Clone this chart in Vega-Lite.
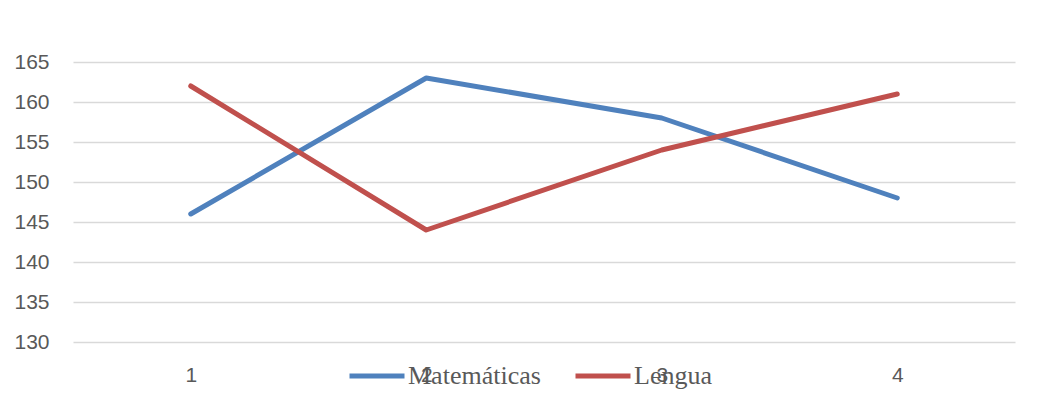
{
  "$schema": "https://vega.github.io/schema/vega-lite/v6.json",
  "width": 942,
  "height": 280,
  "autosize": "none",
  "padding": {"left": 73, "top": 62, "right": 26, "bottom": 70},
  "background": "white",
  "data": {
    "values": [
      {"serie": "Matemáticas", "cat": "1", "valor": 146},
      {"serie": "Matemáticas", "cat": "2", "valor": 163},
      {"serie": "Matemáticas", "cat": "3", "valor": 158},
      {"serie": "Matemáticas", "cat": "4", "valor": 148},
      {"serie": "Lengua", "cat": "1", "valor": 162},
      {"serie": "Lengua", "cat": "2", "valor": 144},
      {"serie": "Lengua", "cat": "3", "valor": 154},
      {"serie": "Lengua", "cat": "4", "valor": 161}
    ]
  },
  "mark": {"type": "line", "strokeWidth": 5, "strokeCap": "round", "strokeJoin": "round"},
  "encoding": {
    "x": {
      "field": "cat",
      "type": "ordinal",
      "scale": {"type": "point", "padding": 0.5},
      "axis": {
        "title": null,
        "domain": false,
        "ticks": false,
        "grid": false,
        "labelAngle": 0,
        "labelFont": "Liberation Sans",
        "labelFontSize": 21,
        "labelColor": "#595959",
        "labelPadding": 22
      }
    },
    "y": {
      "field": "valor",
      "type": "quantitative",
      "scale": {"domain": [130, 165], "nice": false, "zero": false},
      "axis": {
        "title": null,
        "values": [130, 135, 140, 145, 150, 155, 160, 165],
        "domain": false,
        "ticks": false,
        "grid": true,
        "gridColor": "#D9D9D9",
        "gridWidth": 1.5,
        "labelFont": "Liberation Sans",
        "labelFontSize": 21,
        "labelColor": "#595959",
        "labelPadding": 24
      }
    },
    "color": {
      "field": "serie",
      "type": "nominal",
      "scale": {"domain": ["Matemáticas", "Lengua"], "range": ["#4F81BD", "#C0504D"]},
      "legend": {
        "orient": "none",
        "legendX": 274,
        "legendY": 284,
        "direction": "horizontal",
        "title": null,
        "symbolType": "stroke",
        "symbolSize": 3025,
        "symbolStrokeWidth": 5,
        "labelFont": "Liberation Serif",
        "labelFontSize": 26,
        "labelColor": "#595959",
        "labelOffset": 1,
        "columnPadding": 24,
        "labelLimit": 300
      }
    }
  },
  "config": {"view": {"stroke": null}}
}
